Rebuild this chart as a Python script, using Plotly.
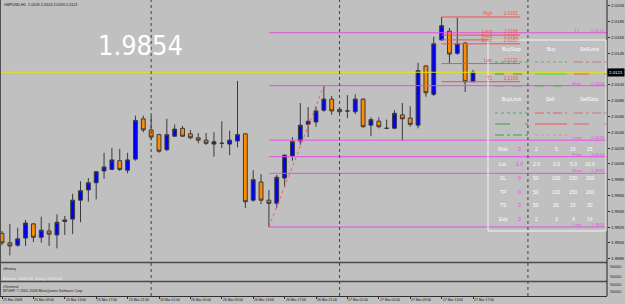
import plotly.graph_objects as go
import pandas as pd

# ---------------- data ----------------
title_text = "GBPUSD,H1  2.0109 2.0124 2.0109 2.0121"
big_label = "1.9854"

bar_times = pd.date_range("2008-03-25 05:00", periods=61, freq="h")
opens = [1.9917, 1.9905, 1.9902, 1.9911, 1.9929, 1.9912, 1.9920, 1.9915, 1.9932, 1.9935,
         1.9959, 1.9972, 1.9981, 1.9996, 1.9998, 2.0009, 1.9997, 2.0011, 2.0062, 2.0048,
         2.0042, 2.0023, 2.0040, 2.0050, 2.0043, 2.0038, 2.0035, 2.0030, 2.0031, 2.0030,
         2.0034, 2.0043, 1.9959, 1.9982, 1.9959, 1.9955, 1.9987, 2.0015, 2.0034, 2.0055,
         2.0058, 2.0073, 2.0087, 2.0074, 2.0072, 2.0071, 2.0087, 2.0054, 2.0059, 2.0050,
         2.0050, 2.0067, 2.0063, 2.0054, 2.0129, 2.0093, 2.0162, 2.0173, 2.0145, 2.0158,
         2.0109]
highs = [1.9920, 1.9929, 1.9924, 1.9934, 1.9930, 1.9938, 1.9930, 1.9941, 1.9939, 1.9967,
         1.9983, 1.9987, 1.9996, 2.0019, 2.0025, 2.0024, 2.0019, 2.0066, 2.0066, 2.0066,
         2.0043, 2.0062, 2.0055, 2.0053, 2.0048, 2.0044, 2.0044, 2.0045, 2.0059, 2.0047,
         2.0110, 2.0044, 1.9997, 1.9992, 1.9972, 1.9991, 2.0017, 2.0039, 2.0082, 2.0077,
         2.0078, 2.0104, 2.0091, 2.0076, 2.0092, 2.0093, 2.0088, 2.0064, 2.0064, 2.0061,
         2.0073, 2.0082, 2.0078, 2.0133, 2.0130, 2.0166, 2.0191, 2.0177, 2.0190, 2.0159,
         2.0124]
lows = [1.9902, 1.9889, 1.9900, 1.9901, 1.9906, 1.9905, 1.9901, 1.9898, 1.9915, 1.9916,
        1.9931, 1.9957, 1.9960, 1.9986, 1.9997, 1.9996, 1.9993, 2.0009, 2.0045, 2.0035,
        2.0019, 2.0021, 2.0039, 2.0039, 2.0036, 2.0031, 2.0029, 2.0014, 2.0025, 2.0016,
        2.0026, 1.9949, 1.9957, 1.9954, 1.9925, 1.9949, 1.9976, 2.0009, 2.0029, 2.0039,
        2.0052, 2.0071, 2.0067, 2.0069, 2.0063, 2.0068, 2.0051, 2.0040, 2.0050, 2.0049,
        2.0049, 2.0034, 2.0052, 2.0050, 2.0090, 2.0091, 2.0161, 2.0132, 2.0143, 2.0096,
        2.0109]
closes = [1.9905, 1.9901, 1.9910, 1.9930, 1.9912, 1.9921, 1.9916, 1.9931, 1.9934, 1.9959,
          1.9971, 1.9981, 1.9995, 2.0001, 2.0010, 1.9998, 2.0010, 2.0060, 2.0048, 2.0039,
          2.0021, 2.0042, 2.0049, 2.0040, 2.0038, 2.0035, 2.0031, 2.0033, 2.0031, 2.0035,
          2.0042, 1.9957, 1.9985, 1.9959, 1.9955, 1.9988, 2.0016, 2.0033, 2.0054, 2.0059,
          2.0072, 2.0087, 2.0072, 2.0071, 2.0072, 2.0087, 2.0052, 2.0061, 2.0052, 2.0050,
          2.0069, 2.0062, 2.0055, 2.0123, 2.0095, 2.0157, 2.0180, 2.0144, 2.0157, 2.0109,
          2.0121]
bid_price = 2.0121

day_breaks = ["2008-03-26 00:00", "2008-03-27 00:00", "2008-03-28 00:00"]
time_tick_vals = pd.date_range("2008-03-25 05:00", periods=16, freq="4h")
time_tick_text = ["25 Mar 2008", "25 Mar 09:00", "25 Mar 13:00", "25 Mar 17:00", "25 Mar 21:00",
                  "26 Mar 01:00", "26 Mar 05:00", "26 Mar 09:00", "26 Mar 13:00", "26 Mar 17:00",
                  "26 Mar 21:00", "27 Mar 01:00", "27 Mar 05:00", "27 Mar 09:00", "27 Mar 13:00",
                  "27 Mar 17:00"]
price_ticks = [1.9885, 1.9905, 1.9925, 1.9945, 1.9965, 1.9985, 2.0005, 2.0025, 2.0045,
               2.0065, 2.0085, 2.0105, 2.0125, 2.0145, 2.0165, 2.0185, 2.0205]
price_tick_text = ["1.9885", "1.9905", "1.9925", "1.9945", "1.9965", "1.9985", "2.0005", "2.0025",
                   "2.0045", "2.0065", "2.0085", "2.0105", "2.0125", "2.0145", "2.0165", "2.0185",
                   "2.0205"]

pivot_names = ["T1", "High", "Long", "Pivot", "Short", "Low"]
pivot_values = [2.0171, 2.0104, 2.0035, 2.0014, 1.9993, 1.9925]
pivot_start = "2008-03-26 15:00"

day_level_names = ["High", "Long", "Pivot", "Short", "Low", "T1"]
day_level_values = [2.0191, 2.0168, 2.0162, 2.0157, 2.0132, 2.0109]
day_level_start = "2008-03-27 13:00"
day_level_end = "2008-03-27 23:00"

trend_times = ["2008-03-26 15:00", "2008-03-26 22:00"]
trend_prices = [1.9925, 2.0104]

panel_top_headers = ["BuyStop", "Buy", "SellLimit"]
panel_bottom_headers = ["BuyLimit", "Sell", "SellStop"]
param_names = ["Risk", "Lot", "SL", "TP", "TS", "Exp"]
param_current = ["0", "1.0", "0", "0", "0", "0"]
param_choices = [["2", "5", "10", "25"],
                 ["2.0", "3.0", "5.0", "10.0"],
                 ["50", "100", "150", "200"],
                 ["50", "100", "150", "200"],
                 ["50", "20", "15", "30"],
                 ["2", "3", "4", "14"]]
history_text = ["vHistory", "Balance: 10000.00, Equity: 10000.00"]
terminal_text = ["vTerminal", "MT4HP, \u00a9 2001-2008 MetaQuotes Software Corp."]
sub_axis_text = ["900000", "900000", "900000", "900000"]

# ---------------- layout helpers ----------------
FIG_W, FIG_H = 625, 304
M_R, M_B = 18, 8
PW, PH = FIG_W - M_R, FIG_H - M_B
MAIN_BOTTOM = 262
BG = "#c0c0c0"
FONT = "Liberation Sans, Arial, sans-serif"
MAGENTA = "#e64ce6"
RED = "#f05050"


def px(x):
    return x / PW


def py(y):
    return 1 - y / PH


def label(x, y, text, size, color, xanchor="center", yanchor="middle", **kw):
    d = dict(xref="paper", yref="paper", x=px(x), y=py(y), text=text, showarrow=False,
             xanchor=xanchor, yanchor=yanchor, borderpad=0,
             font=dict(size=size, color=color, family=kw.pop("family", FONT)))
    d.update(kw)
    return d


t0 = bar_times[0]
x_range = [t0 - pd.Timedelta(hours=0.255), t0 + pd.Timedelta(hours=77.07)]

fig = go.Figure()
fig.add_trace(go.Candlestick(
    x=bar_times, open=opens, high=highs, low=lows, close=closes,
    increasing=dict(fillcolor="#0000ff", line=dict(color="#3a3a3a", width=1)),
    decreasing=dict(fillcolor="#ff8c00", line=dict(color="#3a3a3a", width=1)),
    whiskerwidth=0, showlegend=False, hoverinfo="skip"))

fig.add_trace(go.Scatter(x=trend_times, y=trend_prices, mode="lines",
                         line=dict(color="#ff5a5a", dash="dot", width=1),
                         showlegend=False, hoverinfo="skip"))

shapes = []
annotations = []

# bid line
shapes.append(dict(type="line", xref="paper", yref="y", x0=0, x1=1, y0=bid_price, y1=bid_price,
                   line=dict(color="#e6e600", width=1)))

# magenta levels
for name, val in zip(pivot_names, pivot_values):
    shapes.append(dict(type="line", xref="x", yref="y", x0=pivot_start, x1=x_range[1],
                       y0=val, y1=val, line=dict(color=MAGENTA, width=1)))
    annotations.append(dict(xref="paper", yref="y", x=px(577), y=val, text=name,
                            xanchor="center", yanchor="middle", yshift=2.5, showarrow=False,
                            font=dict(size=4.4, color=MAGENTA, family=FONT), borderpad=0))
    annotations.append(dict(xref="paper", yref="y", x=px(606), y=val, text=f"{val:.4f}",
                            xanchor="right", yanchor="middle", yshift=2.5, showarrow=False,
                            font=dict(size=4.4, color=MAGENTA, family=FONT), borderpad=0))

# red day levels
for name, val in zip(day_level_names, day_level_values):
    shapes.append(dict(type="line", xref="x", yref="y", x0=day_level_start, x1=day_level_end,
                       y0=val, y1=val, line=dict(color=RED, width=1)))
    annotations.append(dict(xref="x", yref="y", x=day_level_end, y=val, text=f"{val:.4f}",
                            xanchor="right", yanchor="bottom", showarrow=False, xshift=-1,
                            font=dict(size=4.6, color=RED, family=FONT), borderpad=0))
    annotations.append(dict(xref="x", yref="y", x=day_level_end, y=val, text=name,
                            xanchor="right", yanchor="bottom", showarrow=False, xshift=-26,
                            font=dict(size=4.6, color=RED, family=FONT), borderpad=0))

# day separators
for d in day_breaks:
    shapes.append(dict(type="line", xref="x", yref="paper", x0=d, x1=d, y0=0, y1=1,
                       line=dict(color="#404040", width=1, dash="dot")))

# sub-window separators, borders
for yy in (262.5, 281.5):
    shapes.append(dict(type="line", xref="paper", yref="paper", x0=0, x1=1, y0=py(yy), y1=py(yy),
                       line=dict(color="#4a4a4a", width=1.6)))
shapes.append(dict(type="line", xref="paper", yref="paper", x0=1, x1=1, y0=0, y1=1,
                   line=dict(color="#202020", width=1)))
shapes.append(dict(type="line", xref="paper", yref="paper", x0=px(0.5), x1=px(0.5), y0=0, y1=1,
                   line=dict(color="#505050", width=1)))

# trade panel
shapes.append(dict(type="rect", xref="paper", yref="paper", x0=px(488), x1=px(606),
                   y0=py(231), y1=py(40), line=dict(color="#f4f4f4", width=1)))
cols_x = [(495, 528), (535, 567), (574, 606)]
top_styles = [
    (62, [("#50b050", "dot"), ("#50c050", "dot"), ("#c07878", "dashdot")]),
    (74, [("#40a040", "dash"), ("#40e040", "solid"), ("#e06060", "longdash")]),
    (86, [("#909090", "dash"), ("#40c040", "dash"), None]),
]
bottom_styles = [
    (113, [("#50b050", "dot"), ("#e06060", "dashdot"), ("#c07878", "dashdot")]),
    (124, [("#40a040", "longdash"), ("#ff5050", "solid"), ("#d06868", "longdash")]),
    (135, [("#40a040", "dashdot"), ("#e08888", "dot"), None]),
]
for yy, styles in top_styles + bottom_styles:
    for (xa, xb), st in zip(cols_x, styles):
        if st is None:
            continue
        shapes.append(dict(type="line", xref="paper", yref="paper", x0=px(xa), x1=px(xb),
                           y0=py(yy), y1=py(yy), line=dict(color=st[0], width=1, dash=st[1])))

for txt, xc in zip(panel_top_headers, [511, 551, 590]):
    annotations.append(label(xc, 49, txt, 5, "white"))
for txt, xc in zip(panel_bottom_headers, [512, 550, 589]):
    annotations.append(label(xc, 99, txt, 5, "white"))
row_y = [148.5, 164, 178, 192, 205, 219]
for name, cur, ch, yy in zip(param_names, param_current, param_choices, row_y):
    annotations.append(label(503, yy, name, 5, "white"))
    annotations.append(label(519, yy, cur, 5, "#ff30ff"))
    for c, xc in zip(ch, [536, 556, 573, 590]):
        annotations.append(label(xc, yy, c, 5, "white"))

# titles
annotations.append(label(3, 5, title_text, 3.8, "#101010", xanchor="left"))
annotations.append(label(140, 46, big_label, 27, "white",
                         family="Liberation Sans Narrow, DejaVu Sans Condensed, Liberation Sans"))

# sub windows
annotations.append(label(2, 269, history_text[0], 3.6, "#202020", xanchor="left"))
annotations.append(label(2, 278.5, history_text[1], 3.6, "#ececec", xanchor="left"))
annotations.append(label(2, 286.5, terminal_text[0], 3.6, "#202020", xanchor="left"))
annotations.append(label(2, 290.5, terminal_text[1], 3.6, "#202020", xanchor="left"))
for txt, yy in zip(sub_axis_text, [267, 277, 285, 292]):
    annotations.append(label(609, yy, txt, 3.4, "#202020", xanchor="left"))

# time labels
for tv, tt in zip(time_tick_vals, time_tick_text):
    annotations.append(dict(xref="x", yref="paper", x=tv, y=0, text=tt, xanchor="left",
                            yanchor="top", showarrow=False, xshift=0, yshift=-1, borderpad=0,
                            font=dict(size=3.4, color="#101010", family=FONT)))

# bid tag
annotations.append(dict(xref="paper", yref="y", x=1, y=bid_price, text=f"{bid_price:.4f}",
                        xanchor="left", yanchor="middle", showarrow=False, bgcolor="#000000",
                        borderpad=1, font=dict(size=4.4, color="white", family=FONT)))

fig.update_layout(
    width=FIG_W, height=FIG_H,
    margin=dict(l=0, r=M_R, t=0, b=M_B, pad=0),
    paper_bgcolor=BG, plot_bgcolor=BG,
    showlegend=False,
    shapes=shapes, annotations=annotations,
    xaxis=dict(type="date", range=x_range, rangeslider=dict(visible=False),
               anchor="free", position=0, showgrid=False, zeroline=False,
               showline=True, linecolor="#303030", linewidth=1,
               ticks="outside", ticklen=2, tickcolor="#303030",
               tickvals=list(time_tick_vals), showticklabels=False),
    yaxis=dict(domain=[1 - MAIN_BOTTOM / PH, 1], range=[1.98807, 2.02125], side="right",
               showgrid=False, zeroline=False, showline=False,
               ticks="outside", ticklen=2, tickcolor="#303030",
               tickvals=price_ticks, ticktext=price_tick_text,
               tickfont=dict(size=4.4, color="#101010", family=FONT)),
)

fig.write_html("out.html")
